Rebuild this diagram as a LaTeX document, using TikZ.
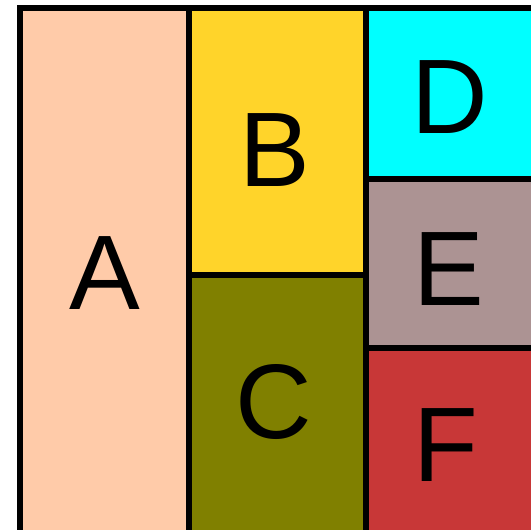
\documentclass[tikz,border=0pt]{standalone}
\usepackage{fontspec}
\setmainfont{Liberation Sans}
\definecolor{cA}{HTML}{FFCBA9}
\definecolor{cB}{HTML}{FFD42A}
\definecolor{cC}{HTML}{808000}
\definecolor{cD}{HTML}{00FFFF}
\definecolor{cE}{HTML}{AC9393}
\definecolor{cF}{HTML}{C83737}
\begin{document}
\begin{tikzpicture}[x=1pt,y=-1pt,
  cell/.style={draw=black,line width=6pt},
  lbl/.style={font=\fontsize{106}{110}\selectfont,inner sep=0pt,anchor=center}]
\useasboundingbox (0,0) rectangle (531,530);
\clip (0,0) rectangle (531,530);
\fill[white] (0,0) rectangle (531,530);
\path[cell,fill=cA] (20,8) rectangle (189,548);
\path[cell,fill=cB] (189,8) rectangle (366,275);
\path[cell,fill=cC] (189,275) rectangle (366,548);
\path[cell,fill=cD] (366,8) rectangle (545,179);
\path[cell,fill=cE] (366,179) rectangle (545,348);
\path[cell,fill=cF] (366,348) rectangle (545,548);
\node[lbl] (A) at (105,273) {A};
\node[lbl] (B) at (275,150) {B};
\node[lbl] (C) at (274,402) {C};
\node[lbl] (D) at (450,97) {D};
\node[lbl] (E) at (449,269) {E};
\node[lbl] (F) at (446,445) {F};
\end{tikzpicture}
\end{document}
